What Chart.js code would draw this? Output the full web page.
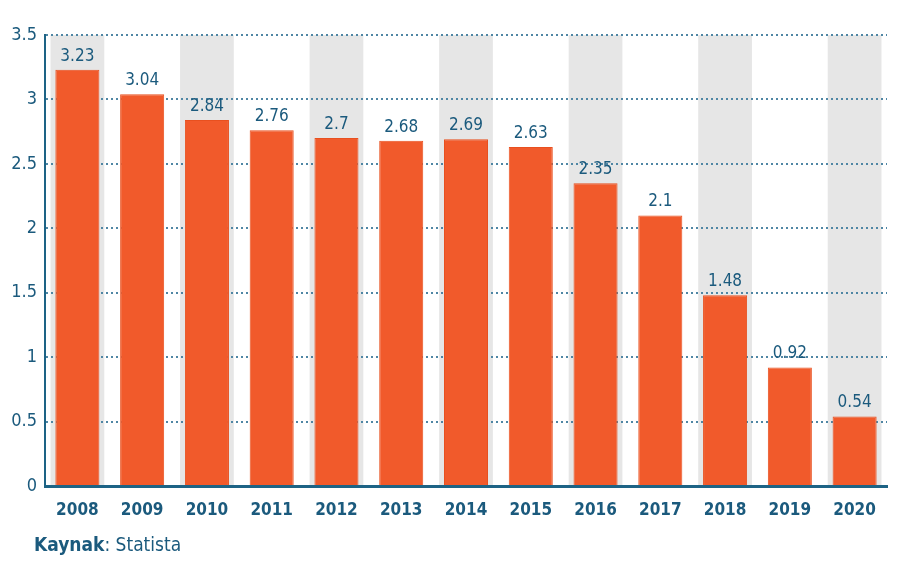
<!DOCTYPE html>
<html>
<head>
<meta charset="utf-8">
<script src="https://cdn.jsdelivr.net/npm/chart.js@4.4.1/dist/chart.umd.min.js"></script>
<style>
  html, body { margin: 0; padding: 0; background: #fff; }
  #wrap { position: relative; width: 900px; height: 570px; }
  #source {
    position: absolute; left: 34px; top: 533px;
    font-family: "Liberation Sans Narrow", "DejaVu Sans Condensed", sans-serif;
    font-size: 19px; color: #1b5a7d;
  }
  #source b { font-weight: bold; }
</style>
</head>
<body>
<div id="wrap">
  <canvas id="chart" width="900" height="570"></canvas>
  <div id="source"><b>Kaynak</b>: Statista</div>
</div>
<script>
// veriler
const years = ['2008', '2009', '2010', '2011', '2012', '2013', '2014', '2015', '2016', '2017', '2018', '2019', '2020'];
const values = [3.23, 3.04, 2.84, 2.76, 2.7, 2.68, 2.69, 2.63, 2.35, 2.1, 1.48, 0.92, 0.54];
const yTicks = [0, 0.5, 1, 1.5, 2, 2.5, 3, 3.5];

const teal = '#1b5a7d';
const condensed = '"Liberation Sans Narrow", "DejaVu Sans Condensed", sans-serif';

// gri şeritler (çift sıradaki yıllar)
const bandPlugin = {
  id: 'bands',
  beforeDraw(chart) {
    const ctx = chart.ctx;
    const x = chart.scales.x;
    const area = chart.chartArea;
    const w = (x.getPixelForValue(1) - x.getPixelForValue(0)) * 0.83;
    ctx.save();
    ctx.fillStyle = '#e6e6e6';
    years.forEach((y, i) => {
      if (i % 2 === 0) {
        const cx = x.getPixelForValue(i);
        ctx.fillRect(cx - w / 2, area.top, w, area.bottom - area.top);
      }
    });
    ctx.restore();
  }
};

// değer etiketleri
const labelPlugin = {
  id: 'valueLabels',
  afterDatasetsDraw(chart) {
    const ctx = chart.ctx;
    const meta = chart.getDatasetMeta(0);
    ctx.save();
    ctx.fillStyle = teal;
    ctx.font = '17px ' + condensed;
    ctx.textAlign = 'center';
    ctx.textBaseline = 'bottom';
    meta.data.forEach((bar, i) => {
      ctx.fillText(String(values[i]), bar.x, bar.y - 5);
    });
    ctx.restore();
  }
};

new Chart(document.getElementById('chart'), {
  type: 'bar',
  data: {
    labels: years,
    datasets: [{
      data: values,
      backgroundColor: '#f15a2b',
      borderColor: '#e8501f',
      borderWidth: 1,
      categoryPercentage: 0.68,
      barPercentage: 1
    }]
  },
  options: {
    responsive: false,
    animation: false,
    layout: { padding: { top: 35, right: 13, left: 0, bottom: 0 } },
    plugins: {
      legend: { display: false },
      tooltip: { enabled: false }
    },
    scales: {
      x: {
        grid: { display: false },
        border: { display: true, color: '#1d6385', width: 3 },
        ticks: {
          color: teal,
          font: { family: condensed, size: 17, weight: 'bold' },
          padding: 6
        },
        afterFit(s) { s.height = 84; }
      },
      y: {
        min: 0,
        max: 3.5,
        afterBuildTicks(s) { s.ticks = yTicks.map(v => ({ value: v })); },
        grid: {
          color: '#4f86a4',
          lineWidth: 2,
          drawTicks: false
        },
        border: { display: true, color: '#1d6385', width: 2, dash: [2, 3] },
        ticks: {
          color: teal,
          font: { family: condensed, size: 18 },
          padding: 8,
          callback: v => String(v)
        },
        afterFit(s) { s.width = 45; }
      }
    }
  },
  plugins: [bandPlugin, labelPlugin]
});
</script>
</body>
</html>
